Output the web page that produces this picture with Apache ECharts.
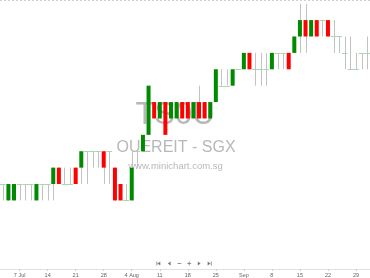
<!DOCTYPE html>
<html><head><meta charset="utf-8">
<script src="https://cdn.jsdelivr.net/npm/echarts@6/dist/echarts.min.js"></script>
<style>html,body{margin:0;padding:0;background:#fff}#c{width:370px;height:278px}</style>
</head><body><div id="c"></div>
<script>
var categories = [
 '2025-07-02','2025-07-03','2025-07-04','2025-07-07','2025-07-08','2025-07-09','2025-07-10','2025-07-11',
 '2025-07-14','2025-07-15','2025-07-16','2025-07-17','2025-07-18','2025-07-21','2025-07-22','2025-07-23',
 '2025-07-24','2025-07-25','2025-07-28','2025-07-29','2025-07-30','2025-07-31','2025-08-01','2025-08-04',
 '2025-08-05','2025-08-06','2025-08-07','2025-08-08','2025-08-11','2025-08-12','2025-08-13','2025-08-14',
 '2025-08-15','2025-08-18','2025-08-19','2025-08-20','2025-08-21','2025-08-22','2025-08-25','2025-08-26',
 '2025-08-27','2025-08-28','2025-08-29','2025-09-01','2025-09-02','2025-09-03','2025-09-04','2025-09-05',
 '2025-09-08','2025-09-09','2025-09-10','2025-09-11','2025-09-12','2025-09-15','2025-09-16','2025-09-17',
 '2025-09-18','2025-09-19','2025-09-22','2025-09-23','2025-09-24','2025-09-25','2025-09-26','2025-09-29',
 '2025-09-30','2025-10-01'];
var openP = [
 .300,.295,.295,.300,.300,.300,.295,.300,.300,.300,
 .305,.300,.300,.305,.305,.310,.310,.310,.310,.310,
 .305,.300,.295,.295,.310,.310,.315,.325,.320,.325,
 .320,.320,.325,.325,.320,.325,.325,.320,.325,.330,
 .330,.330,.335,.335,.340,.335,.335,.335,.335,.340,
 .340,.340,.340,.345,.350,.345,.350,.350,.350,.345,
 .345,.340,.335,.335,.340,.340];
var highP = [
 .300,.300,.300,.300,.300,.300,.300,.300,.300,.305,
 .305,.305,.305,.305,.310,.310,.310,.310,.310,.310,
 .305,.300,.300,.310,.310,.315,.330,.325,.325,.325,
 .325,.325,.325,.325,.325,.330,.325,.325,.335,.335,
 .335,.335,.335,.340,.340,.340,.340,.340,.340,.340,
 .340,.340,.345,.355,.355,.350,.350,.350,.350,.350,
 .345,.345,.345,.340,.340,.345];
var lowP = [
 .295,.295,.295,.295,.295,.295,.295,.295,.295,.295,
 .300,.300,.300,.300,.300,.300,.305,.305,.300,.300,
 .295,.295,.295,.295,.305,.310,.315,.320,.320,.315,
 .320,.320,.320,.320,.320,.320,.320,.320,.325,.330,
 .330,.330,.335,.335,.335,.330,.330,.330,.335,.335,
 .335,.335,.340,.340,.340,.345,.345,.345,.345,.340,
 .340,.335,.335,.335,.335,.335];
var closeP = [
 .300,.300,.300,.300,.300,.300,.300,.300,.300,.305,
 .300,.300,.300,.300,.310,.310,.310,.310,.305,.310,
 .295,.295,.295,.305,.310,.315,.330,.320,.325,.315,
 .325,.325,.320,.320,.325,.320,.320,.325,.335,.330,
 .330,.335,.335,.340,.335,.335,.335,.335,.340,.340,
 .340,.335,.345,.350,.345,.350,.345,.350,.345,.345,
 .345,.340,.335,.335,.340,.340];
var tickDates = ['2025-07-07','2025-07-14','2025-07-21','2025-07-28','2025-08-04','2025-08-11','2025-08-18',
 '2025-08-25','2025-09-01','2025-09-08','2025-09-15','2025-09-22','2025-09-29'];
var tickLabels = ['7 Jul','14','21','28','4 Aug','11','18','25','Sep','8','15','22','29'];

var data = categories.map(function(d, i){ return [i, openP[i], closeP[i], lowP[i], highP[i]]; });
function isTick(i){ return tickDates.indexOf(categories[i]) >= 0; }

var chart = echarts.init(document.getElementById('c'), null, {renderer:'canvas'});
var navColor = '#777';
var navY = 263.5;
chart.setOption({
  animation: false,
  backgroundColor: '#fff',
  grid: {left: -2.55, right: -3.65, top: 3.7, bottom: 11.9, containLabel: false},
  xAxis: {
    type: 'category', data: categories, boundaryGap: true, offset: 3,
    axisLine: {show: true, lineStyle: {color: '#e0e0e0', width: 1}},
    axisTick: {show: true, alignWithLabel: true, length: 2, lineStyle: {color: '#d0d0d0'},
      interval: function(i){ return isTick(i); }},
    axisLabel: {show: true, fontSize: 5.5, color: '#666', margin: 3, fontFamily: 'Liberation Sans',
      interval: function(i){ return isTick(i); },
      formatter: function(v){ var k = tickDates.indexOf(v); return k >= 0 ? tickLabels[k] : ''; }},
    splitLine: {show: false}
  },
  yAxis: {type: 'value', min: 0.275, max: 0.355, show: false, splitLine: {show: false}},
  graphic: [
    {type: 'line', shape: {x1: 0, y1: 0.5, x2: 370, y2: 0.5}, style: {stroke: '#d0d0d0', lineDash: [2, 2], lineWidth: 1}, silent: true},
    {type: 'text', x: 175, y: 115, style: {text: 'TS0U', fontSize: 31, fontFamily: 'Liberation Sans', fill: '#b8b8b8', align: 'center', verticalAlign: 'middle'}, silent: true},
    {type: 'text', x: 176, y: 148, style: {text: 'OUEREIT - SGX', fontSize: 16, fontFamily: 'Liberation Sans', fill: '#b8b8b8', align: 'center', verticalAlign: 'middle'}, silent: true},
    {type: 'text', x: 175.5, y: 166, style: {text: 'www.minichart.com.sg', fontSize: 9.5, fontFamily: 'Liberation Sans', fill: '#b8b8b8', align: 'center', verticalAlign: 'middle'}, silent: true},
    {type: 'rect', shape: {x: 156.5, y: navY - 2, width: 0.8, height: 4}, style: {fill: navColor}, silent: true},
    {type: 'polygon', shape: {points: [[157.5, navY], [160.3, navY - 2], [160.3, navY + 2]]}, style: {fill: navColor}, silent: true},
    {type: 'polygon', shape: {points: [[167.8, navY], [170.6, navY - 2], [170.6, navY + 2]]}, style: {fill: navColor}, silent: true},
    {type: 'rect', shape: {x: 177.5, y: navY - 0.4, width: 3.8, height: 0.8}, style: {fill: navColor}, silent: true},
    {type: 'rect', shape: {x: 187.3, y: navY - 0.4, width: 3.8, height: 0.8}, style: {fill: navColor}, silent: true},
    {type: 'rect', shape: {x: 188.8, y: navY - 1.9, width: 0.8, height: 3.8}, style: {fill: navColor}, silent: true},
    {type: 'polygon', shape: {points: [[200.6, navY], [197.8, navY - 2], [197.8, navY + 2]]}, style: {fill: navColor}, silent: true},
    {type: 'polygon', shape: {points: [[210.4, navY], [207.6, navY - 2], [207.6, navY + 2]]}, style: {fill: navColor}, silent: true},
    {type: 'rect', shape: {x: 210.8, y: navY - 2, width: 0.8, height: 4}, style: {fill: navColor}, silent: true}
  ],
  series: [{
    type: 'custom',
    clip: false,
    data: data,
    encode: {x: 0, y: [1, 2, 3, 4]},
    renderItem: function(params, api){
      var idx = api.value(0);
      var o = api.value(1), c = api.value(2), l = api.value(3), h = api.value(4);
      var x = api.coord([idx, o])[0];
      var yo = api.coord([idx, o])[1], yc = api.coord([idx, c])[1];
      var yl = api.coord([idx, l])[1], yh = api.coord([idx, h])[1];
      var xl = Math.round(x) + 0.5;
      var children = [];
      if (Math.abs(yl - yh) > 0.5) {
        children.push({type: 'line', shape: {x1: xl, y1: yh, x2: xl, y2: yl},
          style: {stroke: '#c2c2c2', lineWidth: 1}});
      }
      if (Math.abs(o - c) < 1e-9) {
        children.push({type: 'line', shape: {x1: x - 2.8, y1: Math.round(yo) + 0.5, x2: x + 2.8, y2: Math.round(yo) + 0.5},
          style: {stroke: '#a8d8a8', lineWidth: 1}});
      } else {
        var top = Math.min(yo, yc), bot = Math.max(yo, yc);
        children.push({type: 'rect', shape: {x: x - 2, y: top, width: 4, height: bot - top},
          style: {fill: c > o ? '#008a00' : '#ff0000'}});
      }
      return {type: 'group', children: children};
    }
  }]
});
</script></body></html>
